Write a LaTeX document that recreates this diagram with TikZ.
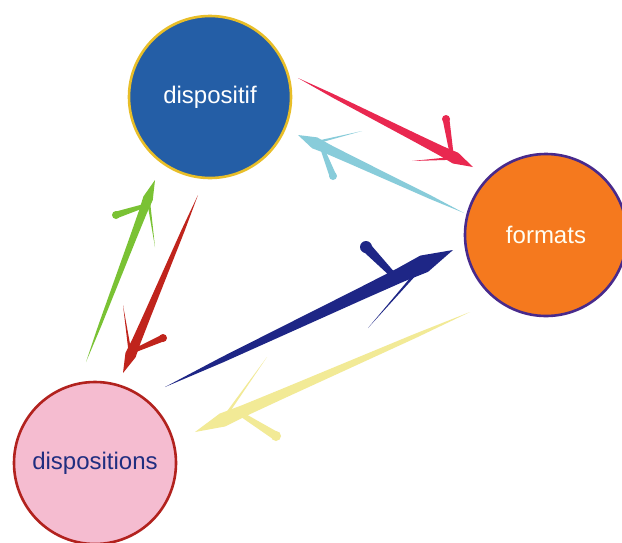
\documentclass[tikz,border=0pt]{standalone}
\usepackage{fontspec}
\newfontfamily\labfont{Liberation Sans}
\usetikzlibrary{calc}
\definecolor{bluefill}{RGB}{36,94,166}
\definecolor{bluerim}{RGB}{232,190,40}
\definecolor{orangefill}{RGB}{245,121,30}
\definecolor{orangerim}{RGB}{72,42,140}
\definecolor{pinkfill}{RGB}{245,188,208}
\definecolor{pinkrim}{RGB}{178,34,30}
\definecolor{pinktext}{RGB}{32,46,128}
\definecolor{redarrow}{RGB}{233,40,80}
\definecolor{cyanarrow}{RGB}{136,204,218}
\definecolor{greenarrow}{RGB}{122,194,52}
\definecolor{darkredarrow}{RGB}{192,36,28}
\definecolor{navyarrow}{RGB}{30,38,134}
\definecolor{yellowarrow}{RGB}{242,234,150}
% tapered brush shaft from tail #1 to tip #2, max half-width #3 (pt)
\newcommand\brushshaft[3]{%
  \pgfmathsetlengthmacro\bwA{0.3*#3}%
  \pgfmathsetlengthmacro\bwB{0.5*#3}%
  \pgfmathsetlengthmacro\bwC{0.68*#3}%
  \pgfmathsetlengthmacro\bwD{0.82*#3}%
  \pgfmathsetlengthmacro\bwE{#3}%
  \fill (#1)
    -- ($(#1)!0.2!(#2)!\bwA!90:(#2)$)
    -- ($(#1)!0.45!(#2)!\bwB!90:(#2)$)
    -- ($(#1)!0.68!(#2)!\bwC!90:(#2)$)
    -- ($(#1)!0.82!(#2)!\bwD!90:(#2)$)
    -- ($(#1)!0.9!(#2)!\bwE!90:(#2)$)
    -- (#2)
    -- ($(#1)!0.9!(#2)!\bwE!-90:(#2)$)
    -- ($(#1)!0.82!(#2)!\bwD!-90:(#2)$)
    -- ($(#1)!0.68!(#2)!\bwC!-90:(#2)$)
    -- ($(#1)!0.45!(#2)!\bwB!-90:(#2)$)
    -- ($(#1)!0.2!(#2)!\bwA!-90:(#2)$)
    -- cycle;}
% barb widening to a round blob: tail #1, tip #2, barb end #3, base fraction #4, blob radius #5 (pt)
\newcommand\blobbarb[5]{%
  \pgfmathsetlengthmacro\bbA{0.45*#5}%
  \pgfmathsetlengthmacro\bbB{0.85*#5}%
  \fill ($(#1)!#4!(#2)!\bbA!90:(#3)$) -- ($(#3)!\bbB!-90:($(#1)!#4!(#2)$)$)
     -- ($(#3)!\bbB!90:($(#1)!#4!(#2)$)$) -- ($(#1)!#4!(#2)!\bbA!-90:(#3)$) -- cycle;
  \fill (#3) circle (#5);}
% thin tapered barb: tail #1, tip #2, barb end #3
\newcommand\thinbarb[3]{%
  \fill ($(#1)!0.9!(#2)!1.8pt!90:(#2)$) -- (#3) -- ($(#1)!0.9!(#2)!1.8pt!-90:(#2)$) -- cycle;}
\tikzset{
  bubble/.style={circle, minimum size=162pt, inner sep=0pt, line width=2.6pt,
    font=\labfont\fontsize{24}{28}\selectfont},
}
\begin{document}
\begin{tikzpicture}[x=1pt,y=-1pt]
\useasboundingbox (0,0) rectangle (622,542);
\clip (0,0) rectangle (622,542);
\fill[white] (0,0) rectangle (622,542);

\node[bubble, fill=bluefill, draw=bluerim, text=white] (dispositif) at (210,97) {dispositif};
\node[bubble, fill=orangefill, draw=orangerim, text=white!95!yellow] (formats) at (546,235) {formats};
\node[bubble, fill=pinkfill, draw=pinkrim, text=pinktext] (dispositions) at (95,463) {dispositions};

% arrow end points
\coordinate (rT) at (298,78);  \coordinate (rH) at (473,167);
\coordinate (rB) at (446,119); \coordinate (rS) at (412,161);
\coordinate (cT) at (464,213); \coordinate (cH) at (298,135);
\coordinate (cB) at (333,176); \coordinate (cS) at (362,131);
\coordinate (gT) at (86,362);  \coordinate (gH) at (155,180);
\coordinate (gB) at (116,215); \coordinate (gS) at (155,247);
\coordinate (dT) at (198,195); \coordinate (dH) at (123,373);
\coordinate (dB) at (163,338); \coordinate (dS) at (123,305);
\coordinate (nT) at (165,387); \coordinate (nH) at (453,250);
\coordinate (nB) at (366,247); \coordinate (nS) at (368,328);
\coordinate (yT) at (470,312); \coordinate (yH) at (195,432);
\coordinate (yB) at (276,436); \coordinate (yS) at (267,357);

% dispositif -> formats
\begin{scope}[fill=redarrow, draw=redarrow]
  \brushshaft{rT}{rH}{6}
  \blobbarb{rT}{rH}{rB}{0.88}{4}
  \thinbarb{rT}{rH}{rS}
\end{scope}
% formats -> dispositif
\begin{scope}[fill=cyanarrow, draw=cyanarrow]
  \brushshaft{cT}{cH}{6}
  \blobbarb{cT}{cH}{cB}{0.86}{4}
  \thinbarb{cT}{cH}{cS}
\end{scope}
% dispositions -> dispositif
\begin{scope}[fill=greenarrow, draw=greenarrow]
  \brushshaft{gT}{gH}{5}
  \blobbarb{gT}{gH}{gB}{0.86}{4}
  \thinbarb{gT}{gH}{gS}
\end{scope}
% dispositif -> dispositions
\begin{scope}[fill=darkredarrow, draw=darkredarrow]
  \brushshaft{dT}{dH}{5.5}
  \blobbarb{dT}{dH}{dB}{0.88}{4}
  \thinbarb{dT}{dH}{dS}
\end{scope}
% dispositions -> formats
\begin{scope}[fill=navyarrow, draw=navyarrow]
  \brushshaft{nT}{nH}{9}
  \blobbarb{nT}{nH}{nB}{0.8}{6}
  \thinbarb{nT}{nH}{nS}
\end{scope}
% formats -> dispositions
\begin{scope}[fill=yellowarrow, draw=yellowarrow]
  \brushshaft{yT}{yH}{7}
  \blobbarb{yT}{yH}{yB}{0.84}{5}
  \thinbarb{yT}{yH}{yS}
\end{scope}
\end{tikzpicture}
\end{document}
